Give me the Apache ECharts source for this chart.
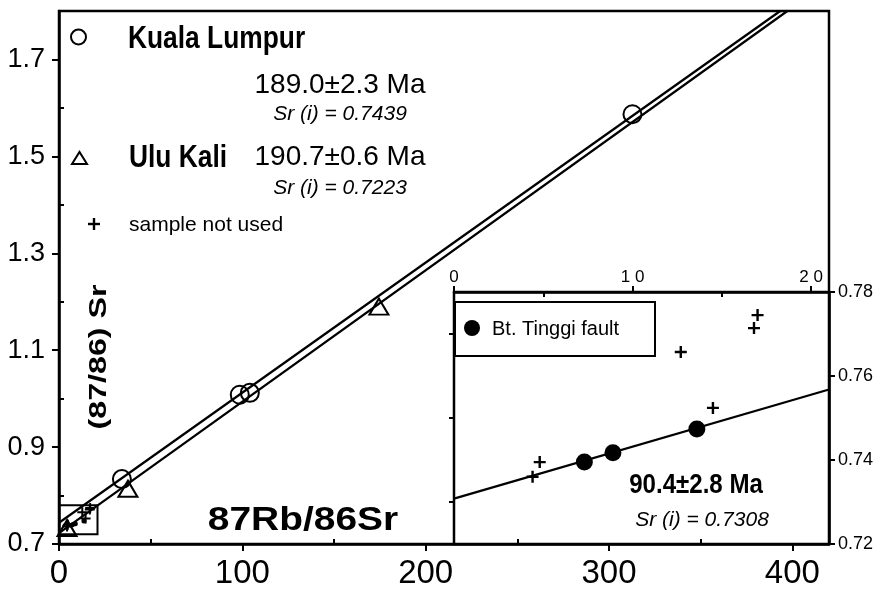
<!DOCTYPE html>
<html>
<head>
<meta charset="utf-8">
<title>Rb-Sr isochrons</title>
<script src="https://cdn.jsdelivr.net/npm/echarts@6/dist/echarts.min.js"></script>
<style>
  html, body { margin: 0; padding: 0; background: #fff; }
  #chart { width: 880px; height: 591px; }
</style>
</head>
<body>
<div id="chart"></div>
<script>
// ---- data: 87Rb/86Sr (x) and 87Sr/86Sr (y) ----
const klRbSr = [34.3, 98.6, 104.1, 312.8];          // Kuala Lumpur
const klSr = [0.834, 1.008, 1.012, 1.587];
const ukRbSr = [4.4, 37.6, 174.5];                  // Ulu Kali
const ukSr = [0.733, 0.814, 1.190];
const btRbSr = [7.3, 8.9, 13.6];                    // Bt. Tinggi fault
const btSr = [0.7395, 0.7417, 0.7474];
const notUsedRbSr = [4.4, 4.8, 12.7, 14.5, 16.8, 17.0];
const notUsedSr = [0.736, 0.7395, 0.7657, 0.7524, 0.7714, 0.7745];

// isochron end points
const klLineRbSr = [0, 393.4];
const klLineSr = [0.7439, 1.8];
const ukLineRbSr = [0, 397.3];
const ukLineSr = [0.7223, 1.8];
const btLineRbSr = [0, 21];
const btLineSr = [0.7308, 0.7568];

// axis ranges and ticks
const mainXRange = [0, 420];
const mainYRange = [0.7, 1.8];
const insetXRange = [0, 21];
const insetYRange = [0.72, 0.78];
const mainXTicks = [0, 100, 200, 300, 400];
const mainXMinor = [50, 150, 250, 350];
const mainYTicks = [0.7, 0.9, 1.1, 1.3, 1.5, 1.7];
const mainYMinor = [0.8, 1.0, 1.2, 1.4, 1.6];
const insetXTicks = [0, 10, 20];
const insetXMinor = [5, 15];
const insetYTicks = [0.72, 0.74, 0.76, 0.78];
const insetYMinor = [0.73, 0.75, 0.77];

const pairs = (xs, ys) => xs.map((x, i) => [x, ys[i]]);

const SANS = '"Liberation Sans", Arial, Helvetica, sans-serif';
const INK = '#000';
const PLUS = 'path://M4,0h2v4h4v2h-4v4h-2v-4h-4v-2h4z';

function majorAxis(extra) {
  return Object.assign({
    type: 'value',
    splitLine: { show: false },
    axisLine: { show: true, onZero: false, lineStyle: { color: INK, width: 2.5 } }
  }, extra);
}
function minorAxis(extra) {
  return Object.assign({
    type: 'value',
    splitLine: { show: false },
    axisLine: { show: false },
    axisLabel: { show: false }
  }, extra);
}
function ticks(values, inside, length) {
  return { show: true, inside: inside, length: length, customValues: values, lineStyle: { color: INK, width: 2 } };
}

const chart = echarts.init(document.getElementById('chart'), null, { renderer: 'canvas' });

const option = {
  animation: false,
  backgroundColor: '#fff',
  grid: [
    { left: 59, top: 11, right: 51, bottom: 47, show: true, borderColor: INK, borderWidth: 2.5, backgroundColor: 'transparent' },
    { left: 454, top: 292, right: 51, bottom: 47, show: true, borderColor: INK, borderWidth: 2.5, backgroundColor: '#fff' }
  ],
  xAxis: [
    majorAxis({
      gridIndex: 0, position: 'bottom', min: mainXRange[0], max: mainXRange[1],
      axisTick: ticks(mainXTicks, false, 7),
      axisLabel: { customValues: mainXTicks, color: INK, fontFamily: SANS, fontSize: 33, margin: 13 }
    }),
    minorAxis({ gridIndex: 0, position: 'bottom', min: mainXRange[0], max: mainXRange[1],
      axisTick: ticks(mainXMinor, true, 5) }),
    majorAxis({
      gridIndex: 1, position: 'top', min: insetXRange[0], max: insetXRange[1],
      axisTick: ticks(insetXTicks, false, 6),
      axisLabel: { customValues: insetXTicks, color: INK, fontFamily: SANS, fontSize: 17, margin: 6,
        formatter: v => String(v).split('').join(' ') }
    }),
    minorAxis({ gridIndex: 1, position: 'top', min: insetXRange[0], max: insetXRange[1],
      axisTick: ticks(insetXMinor, true, 5) })
  ],
  yAxis: [
    majorAxis({
      gridIndex: 0, position: 'left', min: mainYRange[0], max: mainYRange[1],
      axisTick: ticks(mainYTicks, false, 7),
      axisLabel: { customValues: mainYTicks, color: INK, fontFamily: SANS, fontSize: 27, margin: 14,
        formatter: v => v.toFixed(1) }
    }),
    minorAxis({ gridIndex: 0, position: 'left', min: mainYRange[0], max: mainYRange[1],
      axisTick: ticks(mainYMinor, true, 5) }),
    majorAxis({
      gridIndex: 1, position: 'right', min: insetYRange[0], max: insetYRange[1],
      axisTick: ticks(insetYTicks, false, 6),
      axisLabel: { customValues: insetYTicks, color: INK, fontFamily: SANS, fontSize: 18, margin: 9,
        formatter: v => v.toFixed(2) }
    }),
    minorAxis({ gridIndex: 1, position: 'right', min: insetYRange[0], max: insetYRange[1],
      axisTick: ticks(insetYMinor, true, 5) })
  ],
  series: [
    // main diagram: isochrons
    { name: 'Kuala Lumpur isochron', type: 'line', xAxisIndex: 0, yAxisIndex: 0, data: pairs(klLineRbSr, klLineSr),
      showSymbol: false, clip: true, lineStyle: { color: INK, width: 2.2 }, z: 2 },
    { name: 'Ulu Kali isochron', type: 'line', xAxisIndex: 0, yAxisIndex: 0, data: pairs(ukLineRbSr, ukLineSr),
      showSymbol: false, clip: true, lineStyle: { color: INK, width: 2.2 }, z: 2 },
    // main diagram: samples
    { name: 'Kuala Lumpur', type: 'scatter', xAxisIndex: 0, yAxisIndex: 0, data: pairs(klRbSr, klSr),
      symbol: 'circle', symbolSize: 18, itemStyle: { color: 'rgba(0,0,0,0)', borderColor: INK, borderWidth: 2, opacity: 1 }, z: 3 },
    { name: 'Ulu Kali', type: 'scatter', xAxisIndex: 0, yAxisIndex: 0, data: pairs(ukRbSr, ukSr),
      symbol: 'triangle', symbolSize: [19, 16], itemStyle: { color: 'rgba(0,0,0,0)', borderColor: INK, borderWidth: 2, opacity: 1 }, z: 3 },
    { name: 'Bt. Tinggi fault (main)', type: 'scatter', xAxisIndex: 0, yAxisIndex: 0, data: pairs(btRbSr, btSr),
      symbol: 'circle', symbolSize: 5, itemStyle: { color: INK, opacity: 1 }, z: 3 },
    { name: 'sample not used', type: 'scatter', xAxisIndex: 0, yAxisIndex: 0, data: pairs(notUsedRbSr, notUsedSr),
      symbol: PLUS, symbolSize: 10, itemStyle: { color: INK, opacity: 1 }, z: 3,
      markArea: {
        silent: true,
        itemStyle: { color: 'rgba(0,0,0,0)', borderColor: INK, borderWidth: 2 },
        data: [[{ xAxis: insetXRange[0], yAxis: insetYRange[0] }, { xAxis: insetXRange[1], yAxis: insetYRange[1] }]]
      } },
    // inset: Bt. Tinggi fault
    { name: 'Bt. Tinggi isochron', type: 'line', xAxisIndex: 2, yAxisIndex: 2, data: pairs(btLineRbSr, btLineSr),
      showSymbol: false, clip: true, lineStyle: { color: INK, width: 2.2 }, z: 4 },
    { name: 'Bt. Tinggi fault', type: 'scatter', xAxisIndex: 2, yAxisIndex: 2, data: pairs(btRbSr, btSr),
      symbol: 'circle', symbolSize: 17, itemStyle: { color: INK, opacity: 1 }, z: 5 },
    { name: 'sample not used (inset)', type: 'scatter', xAxisIndex: 2, yAxisIndex: 2, data: pairs(notUsedRbSr, notUsedSr),
      symbol: PLUS, symbolSize: 12, itemStyle: { color: INK, opacity: 1 }, z: 5 }
  ],
  graphic: [
    // key, main diagram
    { type: 'circle', z: 100, shape: { cx: 78.5, cy: 37, r: 7.5 }, style: { fill: 'none', stroke: INK, lineWidth: 2 } },
    { type: 'text', z: 100, x: 128, y: 39, scaleX: 0.85, style: { text: 'Kuala Lumpur', font: 'bold 31px ' + SANS, fill: INK, verticalAlign: 'middle' } },
    { type: 'text', z: 100, x: 340, y: 85, style: { text: '189.0\u00b12.3 Ma', font: '28px ' + SANS, fill: INK, align: 'center', verticalAlign: 'middle' } },
    { type: 'text', z: 100, x: 340, y: 114, style: { text: 'Sr (i) = 0.7439', font: 'italic 21px ' + SANS, fill: INK, align: 'center', verticalAlign: 'middle' } },
    { type: 'polygon', z: 100, shape: { points: [[72, 164], [87, 164], [79.5, 152]] }, style: { fill: 'none', stroke: INK, lineWidth: 2 } },
    { type: 'text', z: 100, x: 129, y: 158, scaleX: 0.85, style: { text: 'Ulu Kali', font: 'bold 31px ' + SANS, fill: INK, verticalAlign: 'middle' } },
    { type: 'text', z: 100, x: 340, y: 157, style: { text: '190.7\u00b10.6 Ma', font: '28px ' + SANS, fill: INK, align: 'center', verticalAlign: 'middle' } },
    { type: 'text', z: 100, x: 340, y: 188, style: { text: 'Sr (i) = 0.7223', font: 'italic 21px ' + SANS, fill: INK, align: 'center', verticalAlign: 'middle' } },
    { type: 'rect', z: 100, shape: { x: 88, y: 222.8, width: 12, height: 2.4 }, style: { fill: INK } },
    { type: 'rect', z: 100, shape: { x: 92.8, y: 218, width: 2.4, height: 12 }, style: { fill: INK } },
    { type: 'text', z: 100, x: 129, y: 225, style: { text: 'sample not used', font: '21px ' + SANS, fill: INK, verticalAlign: 'middle' } },
    // axis titles
    { type: 'text', z: 100, x: 303, y: 521, scaleX: 1.18, style: { text: '87Rb/86Sr', font: 'bold 33px ' + SANS, fill: INK, align: 'center', verticalAlign: 'middle' } },
    { type: 'text', z: 100, x: 100, y: 357, rotation: Math.PI / 2, scaleX: 1.4, style: { text: '(87/86) Sr', font: 'bold 23px ' + SANS, fill: INK, align: 'center', verticalAlign: 'middle' } },
    // key and age, inset
    { type: 'rect', z: 100, shape: { x: 455, y: 302, width: 200, height: 54 }, style: { fill: '#fff', stroke: INK, lineWidth: 2 } },
    { type: 'circle', z: 101, shape: { cx: 472, cy: 328, r: 8 }, style: { fill: INK } },
    { type: 'text', z: 101, x: 492, y: 329, style: { text: 'Bt. Tinggi fault', font: '20px ' + SANS, fill: INK, verticalAlign: 'middle' } },
    { type: 'text', z: 100, x: 696, y: 485, scaleX: 0.86, style: { text: '90.4\u00b12.8 Ma', font: 'bold 28px ' + SANS, fill: INK, align: 'center', verticalAlign: 'middle' } },
    { type: 'text', z: 100, x: 702, y: 520, style: { text: 'Sr (i) = 0.7308', font: 'italic 21px ' + SANS, fill: INK, align: 'center', verticalAlign: 'middle' } }
  ]
};

chart.setOption(option);
</script>
</body>
</html>
